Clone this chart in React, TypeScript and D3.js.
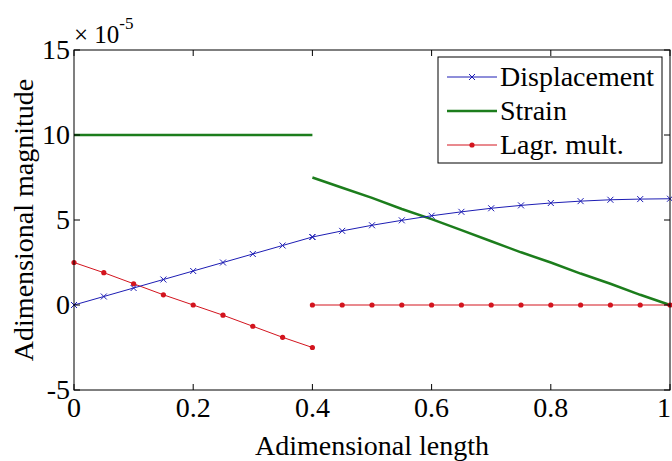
import React from "react";
import * as d3 from "d3";

// positions along the bar (adimensional), left and right parts of the split at 0.4
const xLeft = [0, 0.05, 0.1, 0.15, 0.2, 0.25, 0.3, 0.35, 0.4];
const xRight = [0.4, 0.45, 0.5, 0.55, 0.6, 0.65, 0.7, 0.75, 0.8, 0.85, 0.9, 0.95, 1];

// values in units of 1e-5
const displacementLeft = [0, 0.5, 1, 1.5, 2, 2.5, 3, 3.5, 4];
const displacementRight = [4, 4.36, 4.69, 4.98, 5.25, 5.48, 5.69, 5.86, 6.0, 6.11, 6.19, 6.23, 6.25];
const strainLeft = [10, 10, 10, 10, 10, 10, 10, 10, 10];
const strainRight = [7.5, 6.9, 6.3, 5.65, 5.05, 4.4, 3.75, 3.1, 2.5, 1.85, 1.25, 0.6, 0];
const lagrLeft = [2.5, 1.9, 1.25, 0.6, 0, -0.6, -1.25, -1.9, -2.5];
const lagrRight = [0, 0, 0, 0, 0, 0, 0, 0, 0, 0, 0, 0, 0];

const xTicks = [0, 0.2, 0.4, 0.6, 0.8, 1];
const yTicks = [-5, 0, 5, 10, 15];

const BLUE = "#1d1db4";
const GREEN = "#1c7d1c";
const RED = "#d3141e";
const FONT = "Liberation Serif";

const W = 672;
const H = 461;
const left = 74;
const right = 670;
const top = 50;
const bottom = 390;

const x = d3.scaleLinear().domain([0, 1]).range([left, right]);
const y = d3.scaleLinear().domain([-5, 15]).range([bottom, top]);

type Pt = [number, number];
const zip = (xs: number[], ys: number[]): Pt[] => xs.map((v, i) => [v, ys[i]]);

const line = d3
  .line<Pt>()
  .x((d) => x(d[0]))
  .y((d) => y(d[1]));

const Cross = ({ cx, cy }: { cx: number; cy: number }) => (
  <path
    d={`M${cx - 3},${cy - 3}L${cx + 3},${cy + 3}M${cx - 3},${cy + 3}L${cx + 3},${cy - 3}`}
    stroke={BLUE}
    strokeWidth={1}
  />
);

const Dot = ({ cx, cy }: { cx: number; cy: number }) => <circle cx={cx} cy={cy} r={2.6} fill={RED} />;

const T = (props: React.SVGProps<SVGTextElement>) => (
  <text fontSize={28} fill="#000" {...props} fontFamily={FONT} style={{ fontFamily: "'Liberation Serif'" }} />
);

export default function App() {
  const dispSegs = [zip(xLeft, displacementLeft), zip(xRight, displacementRight)];
  const strainSegs = [zip(xLeft, strainLeft), zip(xRight, strainRight)];
  const lagrSegs = [zip(xLeft, lagrLeft), zip(xRight, lagrRight)];

  const legendX = 438;
  const legendY = 57;
  const legendW = 224;
  const legendH = 106;
  const rows = [
    { label: "Displacement", color: BLUE, width: 1, marker: "x", cy: 77 },
    { label: "Strain", color: GREEN, width: 2.5, marker: "", cy: 111 },
    { label: "Lagr. mult.", color: RED, width: 1, marker: "o", cy: 145 },
  ];

  return (
    <svg width={W} height={H} fontFamily={FONT} style={{ position: "absolute", left: 0, top: 0 }}>
      <style>{`text, tspan { font-family: 'Liberation Serif', serif !important; }`}</style>
      <rect width={W} height={H} fill="#fff" />

      {/* series */}
      {strainSegs.map((s, i) => (
        <path key={"s" + i} d={line(s) as string} fill="none" stroke={GREEN} strokeWidth={2.5} />
      ))}
      {lagrSegs.map((s, i) => (
        <g key={"l" + i}>
          <path d={line(s) as string} fill="none" stroke={RED} strokeWidth={1} />
          {s.map((p, j) => (
            <Dot key={j} cx={x(p[0])} cy={y(p[1])} />
          ))}
        </g>
      ))}
      {dispSegs.map((s, i) => (
        <g key={"d" + i}>
          <path d={line(s) as string} fill="none" stroke={BLUE} strokeWidth={1} />
          {s.map((p, j) => (
            <Cross key={j} cx={x(p[0])} cy={y(p[1])} />
          ))}
        </g>
      ))}

      {/* box and ticks */}
      <rect x={left} y={top} width={right - left} height={bottom - top} fill="none" stroke="#000" strokeWidth={1} />
      {xTicks.map((t) => (
        <g key={"xt" + t}>
          <line x1={x(t)} x2={x(t)} y1={bottom} y2={bottom - 6} stroke="#000" />
          <line x1={x(t)} x2={x(t)} y1={top} y2={top + 6} stroke="#000" />
          <T x={Math.min(x(t), W - 8)} y={417} textAnchor="middle">
            {t}
          </T>
        </g>
      ))}
      {yTicks.map((t) => (
        <g key={"yt" + t}>
          <line x1={left} x2={left + 6} y1={y(t)} y2={y(t)} stroke="#000" />
          <line x1={right} x2={right - 6} y1={y(t)} y2={y(t)} stroke="#000" />
          <T x={left - 4} y={y(t) + 9} textAnchor="end">
            {t}
          </T>
        </g>
      ))}

      {/* exponent */}
      <T x={left} y={43} fontSize={25}>
        × 10
        <tspan fontSize={17} dy={-14}>
          -5
        </tspan>
      </T>

      {/* axis labels */}
      <T x={(left + right) / 2} y={455} textAnchor="middle">
        Adimensional length
      </T>
      <T transform={`translate(33,${(top + bottom) / 2}) rotate(-90)`} textAnchor="middle">
        Adimensional magnitude
      </T>

      {/* legend */}
      <rect x={legendX} y={legendY} width={legendW} height={legendH} fill="#fff" stroke="#000" strokeWidth={1} />
      {rows.map((r) => (
        <g key={r.label}>
          <line x1={447} x2={497} y1={r.cy} y2={r.cy} stroke={r.color} strokeWidth={r.width} />
          {r.marker === "x" && <Cross cx={472} cy={r.cy} />}
          {r.marker === "o" && <Dot cx={472} cy={r.cy} />}
          <T x={500} y={r.cy + 9}>
            {r.label}
          </T>
        </g>
      ))}
    </svg>
  );
}
